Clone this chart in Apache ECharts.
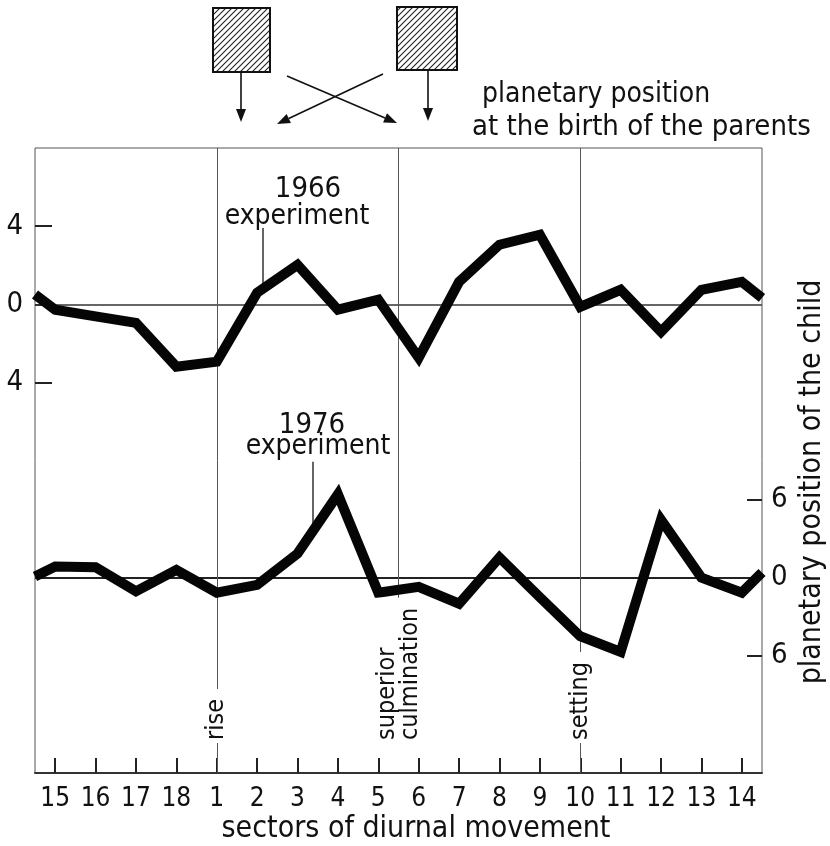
<!DOCTYPE html>
<html>
<head>
<meta charset="utf-8">
<script src="https://cdn.jsdelivr.net/npm/echarts@6/dist/echarts.min.js"></script>
<style>
  html, body { margin: 0; padding: 0; background: #fff; }
  #chart { width: 830px; height: 846px; }
</style>
</head>
<body>
<div id="chart"></div>
<script>
// Sectors of diurnal movement, in the order they run along the axis
const sectors = ['15', '16', '17', '18', '1', '2', '3', '4', '5', '6', '7', '8', '9', '10', '11', '12', '13', '14'];

// 1966 experiment: deviation per sector (upper curve, left scale)
const exp1966 = [-0.28, -0.62, -0.95, -3.2, -2.94, 0.59, 2.02, -0.28, 0.23, -2.74, 1.15, 3.05, 3.56, -0.13, 0.74, -1.41, 0.74, 1.15];
// 1966 curve where it meets the left and right frame (cycle wraps 14 -> 15)
const exp1966Edges = [0.5, 0.33];

// 1976 experiment: deviation per sector (lower curve, right scale)
const exp1976 = [0.85, 0.8, -1.05, 0.6, -1.15, -0.55, 1.85, 6.4, -1.15, -0.7, -2.0, 1.55, -1.5, -4.5, -5.7, 4.45, 0.0, -1.15];
const exp1976Edges = [0.1, 0.4];

// Scale ticks and their printed labels
const leftTicks = [4, 0, -4];
const leftTickLabels = ['4', '0', '4'];
const rightTicks = [6, 0, -6];
const rightTickLabels = ['6', '0', '6'];

// Reference positions on the sector axis
const riseAt = 4;            // sector 1
const culminationAt = 8.5;   // between sectors 5 and 6
const settingAt = 13;        // sector 10

const FONT = '"DejaVu Sans Condensed", "DejaVu Sans", sans-serif';
const INK = '#111';

function withEdges(values, edges) {
  const pts = [[-0.5, edges[0]]];
  values.forEach((v, i) => pts.push([i, v]));
  pts.push([values.length - 0.5, edges[1]]);
  return pts;
}

function labelFor(ticks, labels) {
  return v => {
    const i = ticks.findIndex(t => Math.abs(t - v) < 1e-9);
    return i >= 0 ? labels[i] : '';
  };
}

const chart = echarts.init(document.getElementById('chart'), null, { renderer: 'canvas' });

const curveStyle = { color: '#050505', width: 10, join: 'miter', cap: 'butt' };

chart.setOption({
  backgroundColor: '#fff',
  animation: false,
  grid: {
    left: 35, right: 68, top: 148, bottom: 73,
    outerBoundsMode: 'none',
    containLabel: false,
    show: true, borderColor: '#555', borderWidth: 1, backgroundColor: '#fff'
  },
  xAxis: [
    {
      type: 'category',
      data: sectors,
      boundaryGap: true,
      position: 'bottom',
      axisLine: { show: true, onZero: false, lineStyle: { color: '#333', width: 2 } },
      axisTick: { show: true, alignWithLabel: true, inside: true, length: 15, lineStyle: { color: '#222', width: 2 } },
      axisLabel: { interval: 0, margin: 13, fontSize: 26, fontFamily: FONT, color: INK },
      splitLine: { show: false }
    },
    {
      type: 'value', min: -0.5, max: sectors.length - 0.5, show: false,
      axisLine: { onZero: false }
    }
  ],
  yAxis: [
    {
      type: 'value', min: -24, max: 8, position: 'left',
      axisLine: { show: false, onZero: false },
      axisTick: { show: true, inside: true, length: 17, customValues: leftTicks, lineStyle: { color: '#222', width: 2 } },
      axisLabel: { customValues: leftTicks, formatter: labelFor(leftTicks, leftTickLabels), margin: 12, fontSize: 29, fontFamily: FONT, color: INK },
      splitLine: { show: false }
    },
    {
      type: 'value', min: -15, max: 33, position: 'right',
      axisLine: { show: false, onZero: false },
      axisTick: { show: true, inside: true, length: 15, customValues: rightTicks, lineStyle: { color: '#222', width: 2 } },
      axisLabel: { customValues: rightTicks, formatter: labelFor(rightTicks, rightTickLabels), margin: 9, fontSize: 29, fontFamily: FONT, color: INK },
      splitLine: { show: false }
    }
  ],
  series: [
    {
      name: '1966 experiment',
      type: 'line',
      xAxisIndex: 1, yAxisIndex: 0,
      data: withEdges(exp1966, exp1966Edges),
      symbol: 'none',
      clip: true,
      lineStyle: curveStyle,
      z: 5,
      markLine: {
        silent: true, symbol: 'none', animation: false,
        label: { show: false },
        lineStyle: { color: '#333', width: 1.5, type: 'solid' },
        data: [
          { yAxis: 0 },
          [{ coord: [5.15, 3.9] }, { coord: [5.15, 0.9] }]
        ]
      }
    },
    {
      name: '1976 experiment',
      type: 'line',
      xAxisIndex: 1, yAxisIndex: 1,
      data: withEdges(exp1976, exp1976Edges),
      symbol: 'none',
      clip: true,
      lineStyle: curveStyle,
      z: 5,
      markLine: {
        silent: true, symbol: 'none', animation: false,
        label: { show: false },
        lineStyle: { color: '#555', width: 1, type: 'solid' },
        data: [
          { yAxis: 0, lineStyle: { color: '#222', width: 2 } },
          { xAxis: riseAt },
          { xAxis: settingAt },
          [{ coord: [culminationAt, 33] }, { coord: [culminationAt, -2.7] }],
          [{ coord: [6.38, 8.9], lineStyle: { color: '#333', width: 1.5 } }, { coord: [6.38, 3.7] }]
        ]
      }
    }
  ]
});

// Hatch pattern for the two parent boxes
const hatch = document.createElement('canvas');
hatch.width = 6; hatch.height = 6;
(function () {
  const c = hatch.getContext('2d');
  c.fillStyle = '#fff'; c.fillRect(0, 0, 6, 6);
  c.strokeStyle = '#222'; c.lineWidth = 1.1;
  c.beginPath();
  c.moveTo(-1, 7); c.lineTo(7, -1);
  c.moveTo(-1, 1); c.lineTo(1, -1);
  c.moveTo(5, 7); c.lineTo(7, 5);
  c.stroke();
})();

function arrow(x1, y1, x2, y2) {
  const a = Math.atan2(y2 - y1, x2 - x1);
  const L = 13, W = 5;
  const bx = x2 - L * Math.cos(a), by = y2 - L * Math.sin(a);
  const nx = -Math.sin(a), ny = Math.cos(a);
  return [
    { type: 'line', shape: { x1: x1, y1: y1, x2: bx, y2: by }, style: { stroke: INK, lineWidth: 1.6 } },
    { type: 'polygon', shape: { points: [[x2, y2], [bx + nx * W, by + ny * W], [bx - nx * W, by - ny * W]] }, style: { fill: INK } }
  ];
}

function vText(text, x, y) {
  return {
    type: 'text', x: x, y: y, rotation: Math.PI / 2, z: 20,
    style: {
      text: text, fontSize: 25, fontFamily: FONT, fill: INK,
      align: 'left', verticalAlign: 'middle', lineHeight: 23,
      backgroundColor: '#fff', padding: [1, 10, 1, 3]
    }
  };
}

function hText(text, x, y, size, align) {
  return {
    type: 'text', x: x, y: y, z: 20,
    style: { text: text, fontSize: size, fontFamily: FONT, fill: INK, align: align || 'center', verticalAlign: 'middle' }
  };
}

const xPx = v => chart.convertToPixel({ xAxisIndex: 1 }, v);

const graphics = [
  // parent boxes
  { type: 'rect', shape: { x: 213, y: 8, width: 57, height: 64 }, style: { fill: { image: hatch, repeat: 'repeat' }, stroke: INK, lineWidth: 2 } },
  { type: 'rect', shape: { x: 397, y: 7, width: 60, height: 63 }, style: { fill: { image: hatch, repeat: 'repeat' }, stroke: INK, lineWidth: 2 } }
]
  .concat(arrow(241, 72, 241, 122))
  .concat(arrow(428, 70, 428, 121))
  .concat(arrow(287, 76, 397, 123))
  .concat(arrow(383, 74, 277, 124))
  .concat([
    hText('planetary position', 482, 95, 28, 'left'),
    hText('at the birth of the parents', 472, 127, 29, 'left'),
    hText('1966', 308, 189, 29),
    hText('experiment', 297, 217, 28),
    hText('1976', 312, 425, 29),
    hText('experiment', 318, 447, 28),
    hText('sectors of diurnal movement', 416, 829, 30),
    {
      type: 'text', x: 812, y: 482, rotation: Math.PI / 2, z: 20,
      style: { text: 'planetary position of the child', fontSize: 30, fontFamily: FONT, fill: INK, align: 'center', verticalAlign: 'middle' }
    },
    vText('rise', xPx(riseAt), 743),
    vText('setting', xPx(settingAt), 743),
    vText('superior\nculmination', xPx(culminationAt), 743)
  ]);

chart.setOption({ graphic: graphics });
</script>
</body>
</html>
